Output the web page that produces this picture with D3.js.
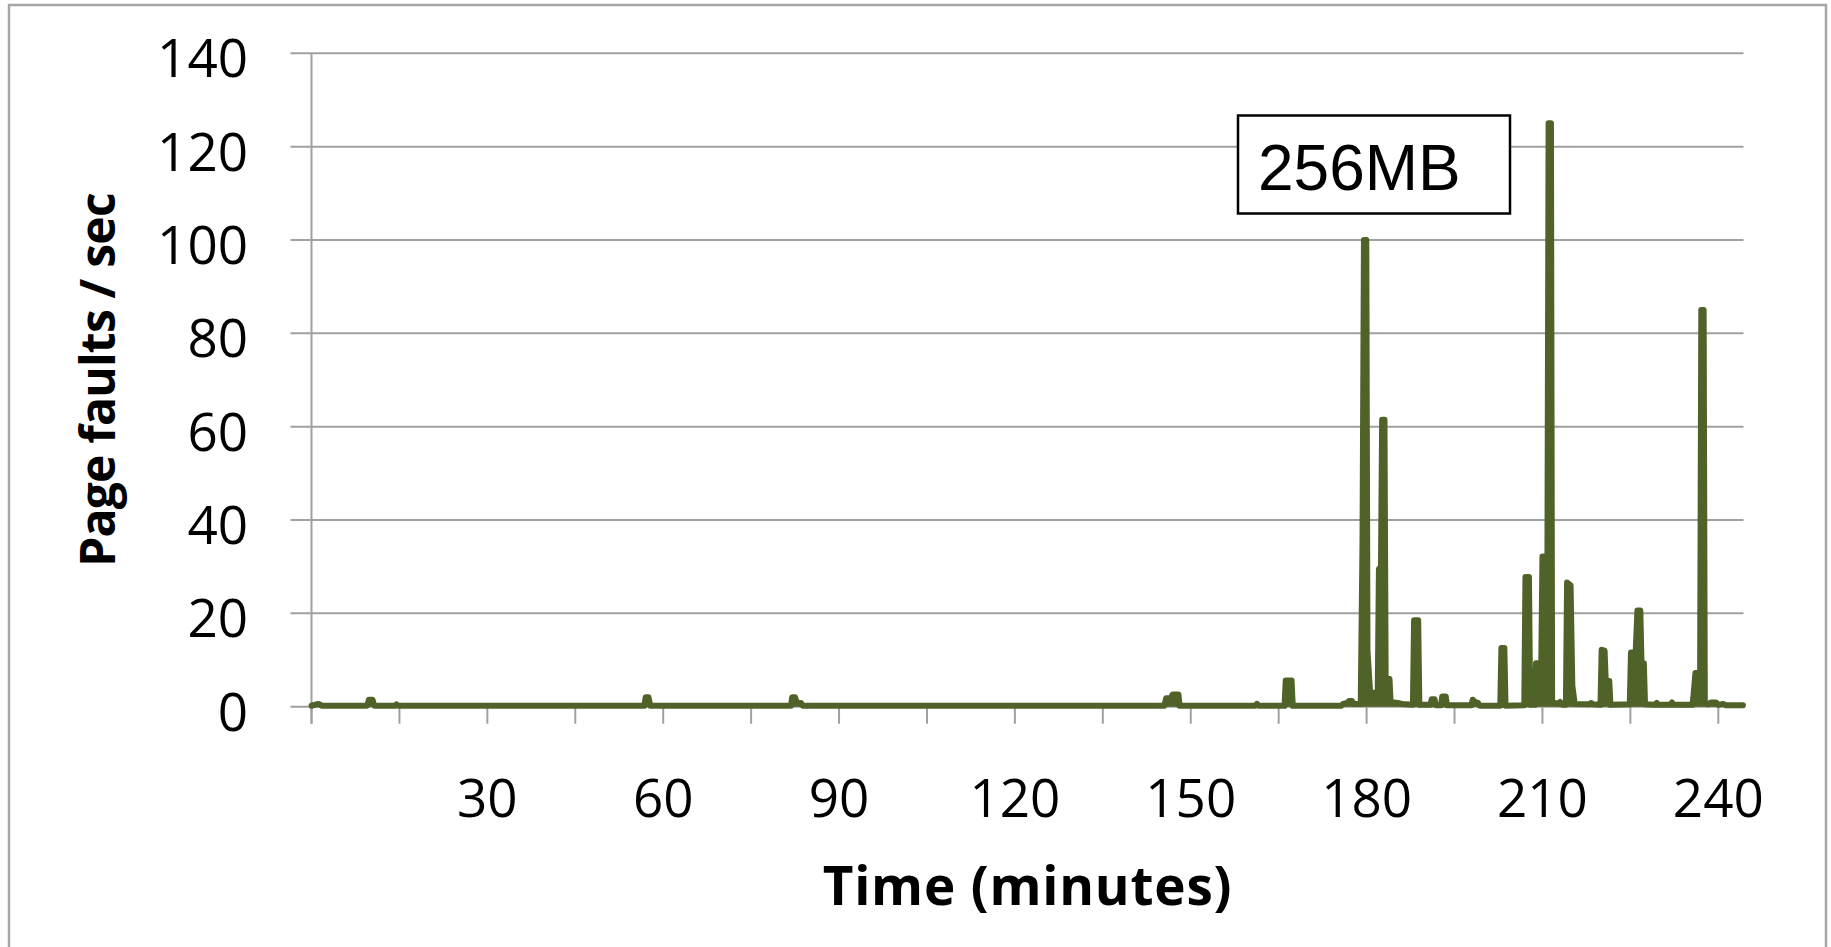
<!DOCTYPE html>
<html>
<head>
<meta charset="utf-8">
<script src="https://cdn.jsdelivr.net/npm/d3@7"></script>
<style>
  html, body { margin: 0; padding: 0; background: #fff; }
  svg { display: block; }
</style>
</head>
<body>
<div id="chart"></div>
<script>
// ---- data ----
const minutes = [
  0, 1.2, 1.8, 9.5, 9.8, 10.4, 10.7, 14.3, 14.5, 14.8,
  56.8, 57.0, 57.5, 57.8, 81.8, 82.0, 82.5, 82.8, 83.5, 83.8,
  145.5, 145.8, 146.6, 146.9, 147.9, 148.1, 161.0, 161.3, 161.6, 166.0,
  166.2, 167.2, 167.4, 175.7, 176.0, 176.7, 177.0, 177.5, 177.8, 179.0,
  179.3, 179.55, 179.95, 180.15, 180.6, 181.9, 182.1, 182.45, 182.65, 183.05,
  183.25, 183.9, 184.1, 185.3, 186.1, 187.9, 188.1, 188.8, 189.0, 190.9,
  191.1, 191.6, 191.8, 192.7, 192.9, 193.5, 193.7, 197.9, 198.1, 198.5,
  199.0, 199.3, 202.8, 203.0, 203.5, 203.7, 206.9, 207.1, 207.7, 207.9,
  208.7, 208.9, 209.8, 210.0, 210.85, 211.05, 211.45, 211.65, 212.6, 213.0,
  213.4, 214.0, 214.2, 214.8, 215.1, 215.5, 218.0, 218.3, 218.6, 219.9,
  220.1, 220.6, 220.8, 221.4, 221.6, 224.9, 225.1, 225.9, 226.2, 226.7,
  226.9, 227.3, 227.5, 229.2, 229.5, 229.8, 231.8, 232.1, 232.4, 235.6,
  235.8, 236.1, 236.9, 237.1, 237.5, 237.7, 238.2, 238.8, 239.6, 240.0,
  240.8, 241.3, 244.2
];
const pageFaults = [
  0.2, 0.6, 0.2, 0.2, 1.5, 1.5, 0.2, 0.2, 0.5, 0.2,
  0.2, 2.0, 2.0, 0.2, 0.2, 2.0, 2.0, 0.8, 0.8, 0.2,
  0.2, 1.8, 1.8, 2.6, 2.6, 0.2, 0.2, 0.6, 0.2, 0.2,
  5.6, 5.6, 0.2, 0.2, 0.6, 0.8, 1.2, 1.2, 0.6, 0.6,
  35, 100, 100, 12, 3, 3, 29.5, 30, 61.5, 61.5,
  6.3, 6, 1, 0.8, 0.6, 0.4, 18.5, 18.5, 0.4, 0.4,
  1.6, 1.6, 0.3, 0.3, 2.2, 2.2, 0.3, 0.3, 1.5, 1.0,
  0.8, 0.2, 0.2, 12.6, 12.6, 0.2, 0.3, 27.8, 27.8, 0.4,
  0.4, 9.3, 9.3, 32.2, 32.2, 125, 125, 1.0, 0.6, 1.0,
  0.4, 0.4, 26.6, 26.0, 4.5, 0.6, 0.5, 0.8, 0.5, 0.4,
  12.2, 12.0, 5.5, 5.5, 0.4, 0.5, 11.6, 11.6, 20.6, 20.6,
  9.3, 9.3, 0.5, 0.4, 0.8, 0.4, 0.4, 0.9, 0.4, 0.4,
  2.8, 7.2, 7.2, 85, 85, 1.0, 0.5, 0.9, 0.9, 0.4,
  0.6, 0.3, 0.3
];
const yTicks = [0, 20, 40, 60, 80, 100, 120, 140];
const xTickMarks = [0, 15, 30, 45, 60, 75, 90, 105, 120, 135, 150, 165, 180, 195, 210, 225, 240];
const xTickLabels = [30, 60, 90, 120, 150, 180, 210, 240];
const xDomain = [0, 244.3];
const yDomain = [0, 140];
const xTitle = "Time (minutes)";
const yTitle = "Page faults / sec";
const annotation = "256MB";

// ---- layout ----
const W = 1831, H = 947;
const plot = { left: 311.5, right: 1743.5, top: 53.3, bottom: 706.7 };
const gridColor = "#a0a0a0";
const lineColor = "#4f6228";
const fontTick = "'Open Sans', 'Noto Sans', sans-serif";

const svg = d3.select("#chart").append("svg")
  .attr("width", W).attr("height", H);

svg.append("rect").attr("width", W).attr("height", H).attr("fill", "#fff");

// outer chart frame
svg.append("rect")
  .attr("x", 9).attr("y", 5).attr("width", 1817).attr("height", 1100)
  .attr("fill", "none").attr("stroke", "#a6a6a6").attr("stroke-width", 2.5);

const x = d3.scaleLinear().domain(xDomain).range([plot.left, plot.right]);
const y = d3.scaleLinear().domain(yDomain).range([plot.bottom, plot.top]);

// gridlines (with outside tick extension to the left)
svg.append("g").selectAll("line").data(yTicks).join("line")
  .attr("x1", plot.left - 21).attr("x2", plot.right)
  .attr("y1", d => y(d)).attr("y2", d => y(d))
  .attr("stroke", gridColor).attr("stroke-width", 2);

// y-axis line
svg.append("line")
  .attr("x1", plot.left).attr("x2", plot.left)
  .attr("y1", y(140)).attr("y2", y(0) + 17)
  .attr("stroke", gridColor).attr("stroke-width", 2);

// x tick marks
svg.append("g").selectAll("line").data(xTickMarks).join("line")
  .attr("x1", d => x(d)).attr("x2", d => x(d))
  .attr("y1", y(0)).attr("y2", y(0) + 17)
  .attr("stroke", gridColor).attr("stroke-width", 2);

// y tick labels
svg.append("g").selectAll("text").data(yTicks).join("text")
  .attr("x", 248).attr("y", d => y(d) + 24)
  .attr("text-anchor", "end")
  .style("font-family", fontTick).style("font-size", "53px").attr("fill", "#000")
  .text(d => d);

// x tick labels
svg.append("g").selectAll("text").data(xTickLabels).join("text")
  .attr("x", d => x(d)).attr("y", 817)
  .attr("text-anchor", "middle")
  .style("font-family", fontTick).style("font-size", "53px").attr("fill", "#000")
  .text(d => d);

// data: dense line, drawn as a filled trace like the original
const pts = minutes.map((m, i) => [m, pageFaults[i]]);
const area = d3.area().x(d => x(d[0])).y0(y(0)).y1(d => y(d[1])).curve(d3.curveLinear);
const line = d3.line().x(d => x(d[0])).y(d => y(d[1])).curve(d3.curveLinear);
svg.append("path")
  .attr("d", area(pts))
  .attr("fill", lineColor).attr("stroke", "none");
svg.append("path")
  .attr("d", line(pts))
  .attr("fill", "none").attr("stroke", lineColor)
  .attr("stroke-width", 6)
  .attr("stroke-linejoin", "round").attr("stroke-linecap", "round");

// annotation box
svg.append("rect")
  .attr("x", 1238).attr("y", 115.5).attr("width", 272).attr("height", 98)
  .attr("fill", "#fff").attr("stroke", "#000").attr("stroke-width", 2.5);
svg.append("text")
  .attr("x", 1258).attr("y", 190)
  .style("font-family", "'Liberation Sans', Arial, sans-serif").style("font-size", "64px")
  .attr("fill", "#000").text(annotation);

// axis titles
svg.append("text")
  .attr("transform", `translate(115, ${(plot.top + plot.bottom) / 2}) rotate(-90)`)
  .attr("text-anchor", "middle")
  .style("font-family", fontTick).style("font-weight", "bold").style("font-size", "48px")
  .style("letter-spacing", "-0.8px")
  .attr("fill", "#000").text(yTitle);

svg.append("text")
  .attr("x", (plot.left + plot.right) / 2).attr("y", 905)
  .attr("text-anchor", "middle")
  .style("font-family", fontTick).style("font-weight", "bold").style("font-size", "53px")
  .style("letter-spacing", "0.8px")
  .attr("fill", "#000").text(xTitle);
</script>
</body>
</html>
